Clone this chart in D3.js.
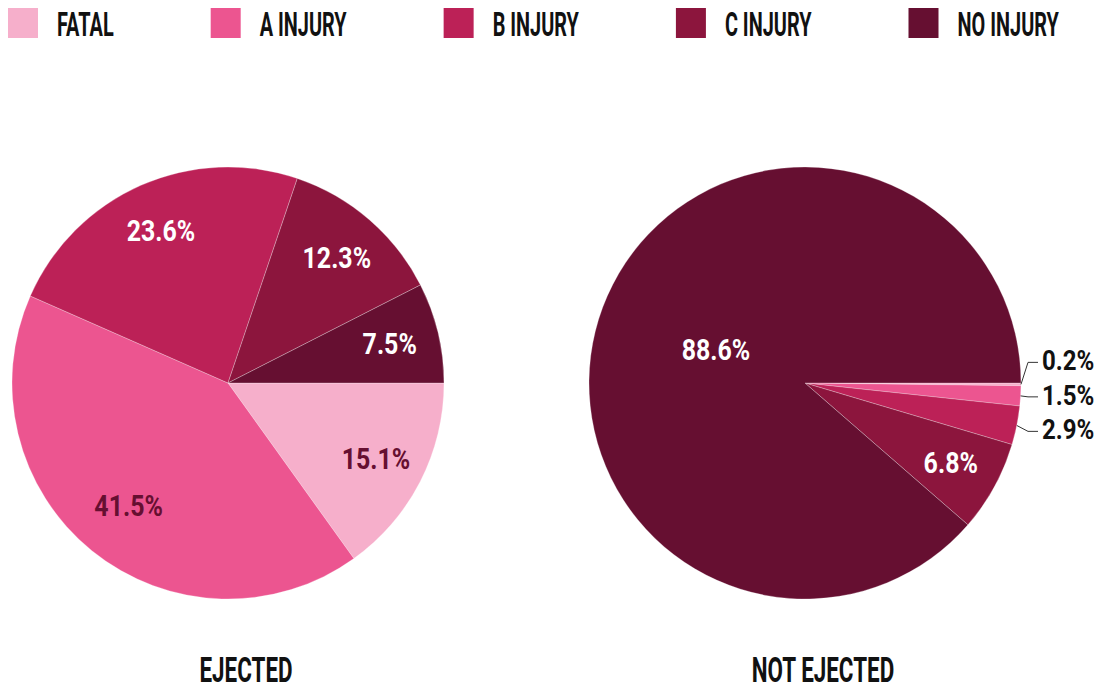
<!DOCTYPE html>
<html>
<head>
<meta charset="utf-8">
<script src="https://cdn.jsdelivr.net/npm/d3@7"></script>
<style>
  html, body { margin: 0; padding: 0; background: #fff; }
  svg text { font-family: Roboto, "Liberation Sans", sans-serif; font-weight: 700; }
</style>
</head>
<body>
<div class="drawingboard"></div>
<script>
// injury categories and their colours
const categories = ["FATAL", "A INJURY", "B INJURY", "C INJURY", "NO INJURY"];
const colors = ["#f6afcb", "#ec5590", "#bc2157", "#8c153d", "#660f31"];

// share of occupants (%) per category
const ejected = [15.1, 41.5, 23.6, 12.3, 7.5];
const notEjected = [0.2, 1.5, 2.9, 6.8, 88.6];

const groupTitles = ["EJECTED", "NOT EJECTED"];
const groupValues = [ejected, notEjected];

var width = 1103;
var height = 689;
var radius = 216;
var centers = [[228, 383], [805, 383]];

// the original face is a tall condensed one, so squeeze the text horizontally
var squeezeLetters = 0.585;
var squeezeTitle = 0.64;
var squeezeNumbers = 0.86;

var svg = d3.select(".drawingboard")
    .append("svg")
    .attr("width", width)
    .attr("height", height);

// legend across the top
var legend = svg.append("g").attr("class", "legend");
var lx = 8;
categories.forEach(function (c, i) {
    var item = legend.append("g").attr("transform", "translate(" + lx + ",8)");
    item.append("rect")
        .attr("width", 30)
        .attr("height", 30)
        .attr("fill", colors[i]);
    var t = item.append("text")
        .attr("transform", "translate(49,27.5) scale(" + squeezeLetters + ",1)")
        .attr("font-size", 34)
        .attr("fill", "#111")
        .text(c);
    var w = t.node().getComputedTextLength() * squeezeLetters;
    lx += 49 + w + 97;
});

var pie = d3.pie()
    .sort(null)
    .startAngle(Math.PI / 2)
    .endAngle(Math.PI / 2 + 2 * Math.PI);

var arc = d3.arc().innerRadius(0).outerRadius(radius);

function textColor(col) {
    return d3.hsl(col).l > 0.55 ? "#660f31" : "#fff";
}

function labelRadius(d) {
    if (d.value > 50) return radius * 0.44;
    if (d.value > 30) return radius * 0.73;
    return radius * 0.77;
}

function drawPie(values, k) {
    var cx = centers[k][0], cy = centers[k][1];
    var g = svg.append("g").attr("transform", "translate(" + cx + "," + cy + ")");
    var arcs = pie(values);

    g.selectAll("path.slice")
        .data(arcs)
        .enter().append("path")
        .attr("class", "slice")
        .attr("d", arc)
        .attr("fill", function (d, i) { return colors[i]; })
        .attr("stroke", "rgba(255,255,255,0.45)")
        .attr("stroke-width", 0.6);

    var inside = arcs.filter(function (d) { return d.value >= 5; });
    var outside = arcs.filter(function (d) { return d.value < 5; });

    g.selectAll("text.inside")
        .data(inside)
        .enter().append("text")
        .attr("class", "inside")
        .attr("font-size", 29)
        .attr("text-anchor", "middle")
        .attr("fill", function (d) { return textColor(colors[d.index]); })
        .attr("transform", function (d) {
            var a = (d.startAngle + d.endAngle) / 2;
            var r = labelRadius(d);
            var x = r * Math.sin(a);
            var y = -r * Math.cos(a) + 29 * 0.355;
            return "translate(" + x + "," + y + ") scale(" + squeezeNumbers + ",1)";
        })
        .text(function (d) { return d.value.toFixed(1) + "%"; });

    // outside labels, stacked from the bottom up so they do not overlap
    var gap = 34.5;
    var placed = outside.map(function (d) {
        var a = (d.startAngle + d.endAngle) / 2;
        return {
            d: d,
            ex: radius * Math.sin(a),
            ey: -radius * Math.cos(a),
            ly: -(radius + 30) * Math.cos(a)
        };
    }).sort(function (a, b) { return b.ly - a.ly; });
    for (var i = 1; i < placed.length; i++) {
        placed[i].ly = Math.min(placed[i].ly, placed[i - 1].ly - gap);
    }

    g.selectAll("path.leader")
        .data(placed)
        .enter().append("path")
        .attr("class", "leader")
        .attr("fill", "none")
        .attr("stroke", "#333")
        .attr("stroke-width", 1)
        .attr("d", function (p) {
            return "M" + p.ex + "," + p.ey +
                "L" + (radius + 7) + "," + p.ly +
                "L" + (radius + 17) + "," + p.ly;
        });

    g.selectAll("text.outside")
        .data(placed)
        .enter().append("text")
        .attr("class", "outside")
        .attr("font-size", 28)
        .attr("fill", "#111")
        .attr("transform", function (p) {
            return "translate(" + (radius + 21) + "," + (p.ly + 8) + ") scale(" + squeezeNumbers + ",1)";
        })
        .text(function (p) { return p.d.value.toFixed(1) + "%"; });

    svg.append("text")
        .attr("transform", "translate(" + (cx + 18) + ",682) scale(" + squeezeTitle + ",1)")
        .attr("text-anchor", "middle")
        .attr("font-size", 35)
        .attr("fill", "#111")
        .text(groupTitles[k]);
}

groupValues.forEach(function (v, k) { drawPie(v, k); });
</script>
</body>
</html>
